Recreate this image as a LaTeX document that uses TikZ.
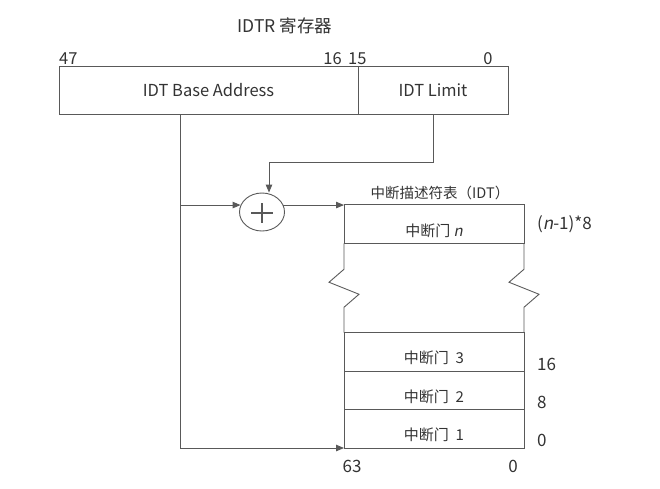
\documentclass[tikz,border=0pt]{standalone}
\usepackage{fontspec}
\setmainfont{Noto Sans CJK SC}[ItalicFont={Noto Sans CJK SC}, ItalicFeatures={FakeSlant=0.2}]
\usetikzlibrary{arrows.meta, positioning, shapes.geometric}
\definecolor{linegray}{gray}{0.35}
\definecolor{textgray}{gray}{0.2}

\begin{document}
\begin{tikzpicture}[
    x=1pt, y=-1pt,
    wire/.style={draw=linegray, line width=0.9pt},
    arrow/.style={wire, -{Triangle[length=8pt, width=6.5pt]}},
    reg/.style={wire, minimum height=48pt, inner sep=0pt, outer sep=0pt, font=\fontsize{16.5}{18}\selectfont, text=textgray},
    gate/.style={wire, minimum width=180pt, minimum height=38.5pt, inner sep=0pt, outer sep=0pt, text height=24pt, text depth=0pt, font=\fontsize{15}{17}\selectfont, text=textgray},
    bits/.style={font=\fontsize{16.5}{18}\selectfont, text=textgray, inner sep=0pt},
    num/.style={font=\fontsize{17}{19}\selectfont, text=textgray, inner sep=0pt},
    caption/.style={font=\fontsize{14.5}{16}\selectfont, text=textgray, inner sep=0pt}
]
\useasboundingbox (0,0) rectangle (660,488);

% IDTR register
\node[caption, font=\fontsize{17.5}{19}\selectfont] (title) at (285,26) {IDTR 寄存器};
\node[reg, minimum width=299pt] (base) at (208.5,90) {IDT Base Address};
\node[reg, minimum width=150pt, right=0pt of base] (limit) {IDT Limit};
\node[bits, anchor=base west] (b47) at ([yshift=2pt]base.north west) {47};
\node[bits, anchor=base east] (b16) at ([xshift=-16pt, yshift=2pt]base.north east) {16};
\node[bits, anchor=base west] (b15) at ([xshift=-10pt, yshift=2pt]limit.north west) {15};
\node[bits, anchor=base] (b0) at ([xshift=-20pt, yshift=2pt]limit.north east) {0};

% adder
\node[ellipse, wire, minimum width=45pt, minimum height=38pt, inner sep=0pt] (adder) at (262,212) {};
\draw[wire, line width=1.2pt] ([xshift=-11pt, yshift=-1pt]adder.center) -- ([xshift=11pt, yshift=-1pt]adder.center)
    ([yshift=9pt]adder.center) -- ([yshift=-11pt]adder.center);

% IDT
\node[gate] (gaten) at (434,224) {中断门 \textit{n}};
\node[gate] (gate3) at (434,351.75) {中断门~ 3};
\node[gate, below=0pt of gate3] (gate2) {中断门~ 2};
\node[gate, below=0pt of gate2] (gate1) {中断门~ 1};
\node[caption, anchor=center] (idt) at ([xshift=6pt, yshift=12pt]gaten.north) {中断描述符表（IDT）};
\foreach \side in {west, east}
    \draw[wire] (gaten.south \side) -- ++(0,26) -- ++(-15,13) -- ++(30,12) -- ++(-15,13) -- (gate3.north \side);

% offsets
\node[num, anchor=west] (offn) at ([xshift=13pt]gaten.east) {(\textit{n}-1)*8};
\node[num, anchor=west] (off16) at ([xshift=13pt, yshift=7pt]gate3.south east) {16};
\node[num, anchor=west] (off8) at ([xshift=13pt, yshift=7pt]gate2.south east) {8};
\node[num, anchor=west] (off0) at ([xshift=13pt, yshift=8pt]gate1.south east) {0};
\node[num] (b63) at ([xshift=8pt, yshift=-18pt]gate1.south west) {63};
\node[num] (bz) at ([xshift=-11pt, yshift=-18pt]gate1.south east) {0};

% connections
\coordinate (trunk) at (180,448);
\coordinate (turn) at (269,162);
\draw[arrow] (limit.south) |- (turn) -- (turn |- adder.north);
\draw[arrow] (base.south -| trunk) -- (trunk) -- (gate1.south west);
\draw[arrow] (adder.162 -| trunk) -- (adder.162);
\draw[arrow] (adder.18) -- (adder.18 -| gaten.west);
\end{tikzpicture}
\end{document}
